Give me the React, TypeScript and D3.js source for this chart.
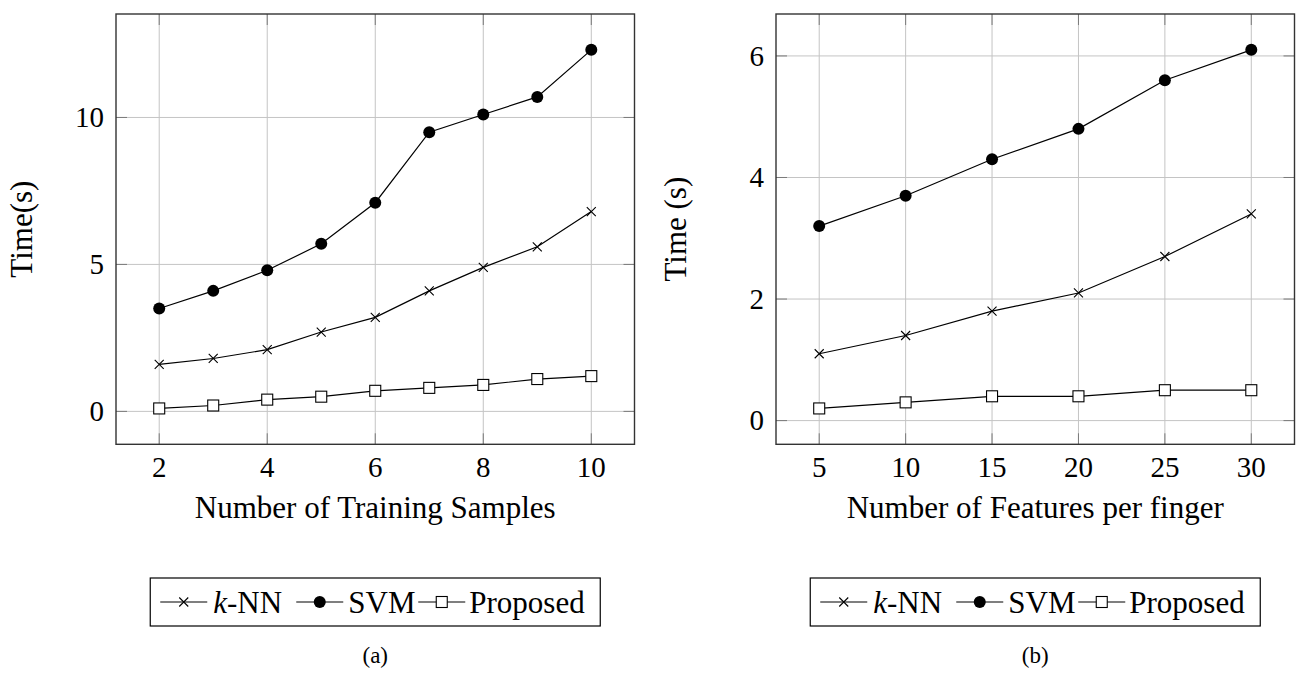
import React from 'react';
import * as d3 from 'd3';

// panel (a): training samples
const samplesA = [2, 3, 4, 5, 6, 7, 8, 9, 10];
const knnA = [1.6, 1.8, 2.1, 2.7, 3.2, 4.1, 4.9, 5.6, 6.8];
const svmA = [3.5, 4.1, 4.8, 5.7, 7.1, 9.5, 10.1, 10.7, 12.3];
const propA = [0.1, 0.2, 0.4, 0.5, 0.7, 0.8, 0.9, 1.1, 1.2];
const xTicksA = [2, 4, 6, 8, 10];
const yTicksA = [0, 5, 10];

// panel (b): features per finger
const featuresB = [5, 10, 15, 20, 25, 30];
const knnB = [1.1, 1.4, 1.8, 2.1, 2.7, 3.4];
const svmB = [3.2, 3.7, 4.3, 4.8, 5.6, 6.1];
const propB = [0.2, 0.3, 0.4, 0.4, 0.5, 0.5];
const xTicksB = [5, 10, 15, 20, 25, 30];
const yTicksB = [0, 2, 4, 6];

const seriesNames = ['k-NN', 'SVM', 'Proposed'];

const FONT = "'Liberation Serif', 'Times New Roman', Times, serif";
const GRID = '#c4c4c4';
const TICK = '#7a7a7a';

// pgfplots style: 10% padding on the data range
const enlarge = (vals: number[]) => {
  const [lo, hi] = d3.extent(vals) as [number, number];
  const pad = (hi - lo) * 0.1;
  return [lo - pad, hi + pad];
};

const Marker = ({ kind, x, y }: { kind: string; x: number; y: number }) => {
  if (kind === 'k-NN') {
    const s = 4.5;
    return (
      <path
        d={`M${x - s},${y - s}L${x + s},${y + s}M${x - s},${y + s}L${x + s},${y - s}`}
        stroke="#000"
        strokeWidth={1.1}
      />
    );
  }
  if (kind === 'SVM') return <circle cx={x} cy={y} r={6} fill="#000" />;
  return <rect x={x - 5.5} y={y - 5.5} width={11} height={11} fill="#fff" stroke="#000" strokeWidth={1.1} />;
};

const Panel = ({ left, xs, data, xTicks, yTicks, xLabel, yLabel, labelOffset, caption }: any) => {
  const top = 14;
  const w = 518.5;
  const h = 430.3;
  const x = d3.scaleLinear().domain(enlarge(xs)).range([left, left + w]);
  const y = d3.scaleLinear().domain(enlarge(data.flat())).range([top + h, top]);
  const line = d3
    .line<number>()
    .x((_, i) => x(xs[i]))
    .y((d) => y(d));
  const cx = left + w / 2;

  return (
    <g style={{ fontFamily: FONT }} fill="#000">
      {/* grid */}
      {xTicks.map((t: number) => (
        <line key={'gx' + t} x1={x(t)} x2={x(t)} y1={top} y2={top + h} stroke={GRID} strokeWidth={1} />
      ))}
      {yTicks.map((t: number) => (
        <line key={'gy' + t} x1={left} x2={left + w} y1={y(t)} y2={y(t)} stroke={GRID} strokeWidth={1} />
      ))}
      {/* inner tick marks */}
      {xTicks.map((t: number) => (
        <g key={'tx' + t} stroke={TICK} strokeWidth={1}>
          <line x1={x(t)} x2={x(t)} y1={top} y2={top + 11} />
          <line x1={x(t)} x2={x(t)} y1={top + h} y2={top + h - 11} />
        </g>
      ))}
      {yTicks.map((t: number) => (
        <g key={'ty' + t} stroke={TICK} strokeWidth={1}>
          <line x1={left} x2={left + 11} y1={y(t)} y2={y(t)} />
          <line x1={left + w} x2={left + w - 11} y1={y(t)} y2={y(t)} />
        </g>
      ))}
      {/* series */}
      {data.map((vals: number[], si: number) => (
        <g key={'s' + si}>
          <path d={line(vals) as string} fill="none" stroke="#000" strokeWidth={1.2} />
          {vals.map((v, i) => (
            <Marker key={i} kind={seriesNames[si]} x={x(xs[i])} y={y(v)} />
          ))}
        </g>
      ))}
      <rect x={left} y={top} width={w} height={h} fill="none" stroke="#333" strokeWidth={1.4} />
      {/* tick labels */}
      {xTicks.map((t: number) => (
        <text key={'lx' + t} x={x(t)} y={477} textAnchor="middle" fontSize={29}>
          {t}
        </text>
      ))}
      {yTicks.map((t: number) => (
        <text key={'ly' + t} x={left - 12} y={y(t)} dy="0.34em" textAnchor="end" fontSize={29}>
          {t}
        </text>
      ))}
      {/* axis labels */}
      <text x={cx} y={518} textAnchor="middle" fontSize={31}>
        {xLabel}
      </text>
      <text transform={`translate(${left - labelOffset},${top + h / 2}) rotate(-90)`} textAnchor="middle" fontSize={31}>
        {yLabel}
      </text>
      {/* legend */}
      <Legend cx={cx} />
      <text x={cx} y={663} textAnchor="middle" fontSize={23}>
        {caption}
      </text>
    </g>
  );
};

const Legend = ({ cx }: { cx: number }) => {
  const left = cx - 225;
  const top = 578;
  const hgt = 48;
  const mid = top + hgt / 2;
  const items = [
    { name: 'k-NN', x0: left + 10, tx: left + 63 },
    { name: 'SVM', x0: left + 146, tx: left + 198 },
    { name: 'Proposed', x0: left + 268, tx: left + 319 },
  ];
  return (
    <g>
      <rect x={left} y={top} width={450} height={hgt} fill="#fff" stroke="#000" strokeWidth={1.2} />
      {items.map((it) => (
        <g key={it.name}>
          <line x1={it.x0} x2={it.x0 + 47} y1={mid} y2={mid} stroke="#000" strokeWidth={1.2} />
          <Marker kind={it.name} x={it.x0 + 23.5} y={mid} />
          <text x={it.tx} y={mid} dy="0.34em" fontSize={31}>
            {it.name === 'k-NN' ? (
              <>
                <tspan fontStyle="italic">k</tspan>-NN
              </>
            ) : (
              it.name
            )}
          </text>
        </g>
      ))}
    </g>
  );
};

export default function App() {
  return (
    <svg width={1298} height={673} style={{ position: 'absolute', left: 0, top: 0, background: '#fff' }}>
      <Panel
        left={116}
        xs={samplesA}
        data={[knnA, svmA, propA]}
        xTicks={xTicksA}
        yTicks={yTicksA}
        xLabel="Number of Training Samples"
        yLabel="Time(s)"
        labelOffset={84}
        caption="(a)"
      />
      <Panel
        left={776}
        xs={featuresB}
        data={[knnB, svmB, propB]}
        xTicks={xTicksB}
        yTicks={yTicksB}
        xLabel="Number of Features per finger"
        yLabel="Time (s)"
        labelOffset={90}
        caption="(b)"
      />
    </svg>
  );
}
